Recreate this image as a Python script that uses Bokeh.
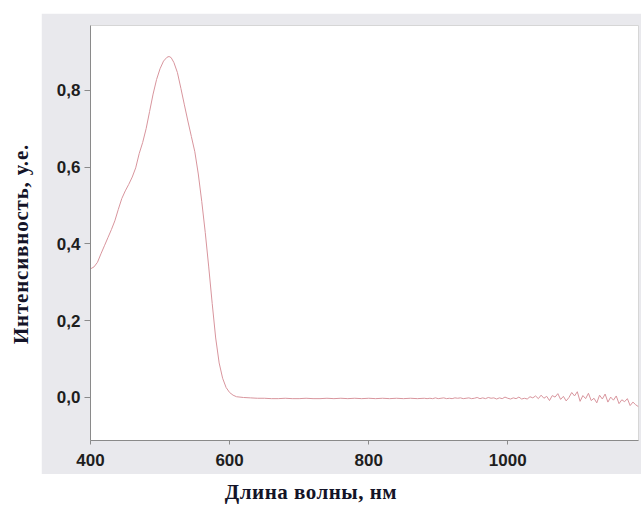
from bokeh.plotting import figure
from bokeh.models import Div, Spacer, CustomJSTickFormatter, FixedTicker, Range1d
from bokeh.layouts import row, column
from bokeh.embed import file_html
from bokeh.resources import INLINE

# ---- data ----
wavelength_main = [400, 405, 410, 415, 420, 425, 430, 435, 440, 445, 450, 455, 460, 465,
                   470, 475, 480, 485, 490, 495, 500, 505, 510, 513, 516, 520, 525, 530,
                   535, 540, 545, 550, 555, 560, 565, 570, 575, 580, 585, 590, 595, 600,
                   605, 610, 620, 630, 640]
intensity_main = [0.335, 0.340, 0.352, 0.374, 0.395, 0.416, 0.437, 0.460, 0.490, 0.518,
                  0.538, 0.555, 0.574, 0.598, 0.635, 0.664, 0.700, 0.745, 0.790, 0.828,
                  0.856, 0.876, 0.886, 0.888, 0.885, 0.872, 0.846, 0.805, 0.762, 0.720,
                  0.680, 0.640, 0.582, 0.510, 0.430, 0.340, 0.245, 0.155, 0.090, 0.050,
                  0.026, 0.013, 0.006, 0.002, 0.000, -0.001, -0.002]

wavelength_flat = [650, 660, 670, 680, 690, 700, 710, 720, 730, 740, 750, 760, 770, 780,
                   790, 800, 810, 820, 830, 840, 850, 860, 870, 880]
intensity_flat = [-0.002, -0.003, -0.003, -0.002, -0.003, -0.003, -0.002, -0.003, -0.003,
                  -0.002, -0.003, -0.002, -0.003, -0.002, -0.003, -0.002, -0.003, -0.002,
                  -0.003, -0.002, -0.003, -0.002, -0.003, -0.002]

wavelength_noisy = [884, 888, 892, 896, 900, 904, 908, 912, 916, 920, 924, 928, 932, 936,
                    940, 944, 948, 952, 956, 960, 964, 968, 972, 976, 980, 984, 988, 992,
                    996, 1000, 1004, 1008, 1012, 1016, 1020, 1024, 1028, 1032, 1036, 1040,
                    1044, 1048, 1052, 1056, 1060, 1064, 1068, 1072, 1076, 1080, 1084, 1088,
                    1092, 1096, 1100, 1104, 1108, 1112, 1116, 1120, 1124, 1128, 1132, 1136,
                    1140, 1144, 1148, 1152, 1156, 1160, 1164, 1168, 1172, 1176, 1180, 1184,
                    1188]
intensity_noisy = [-0.003, -0.002, -0.003, -0.001, -0.003, -0.002, -0.001, -0.003, -0.002,
                   -0.003, -0.001, -0.002, -0.001, -0.003, -0.002, -0.001, -0.003, -0.002,
                   0.000, -0.003, -0.001, -0.003, 0.000, -0.002, -0.001, -0.004, -0.001,
                   -0.003, 0.001, -0.002, -0.004, -0.001, -0.003, 0.001, -0.004, -0.002,
                   -0.004, 0.002, -0.001, 0.004, -0.003, 0.006, -0.002, 0.003, -0.008,
                   0.005, 0.001, 0.010, -0.005, 0.003, -0.009, 0.000, 0.013, 0.004,
                   0.015, -0.010, 0.005, -0.003, 0.011, -0.008, -0.002, -0.014, 0.006,
                   -0.004, 0.009, -0.012, 0.001, -0.007, 0.004, -0.016, -0.006, -0.011,
                   -0.003, -0.021, -0.012, -0.019, -0.024]

x_ticks = [400, 600, 800, 1000]
y_ticks = [0.0, 0.2, 0.4, 0.6, 0.8]
x_title = "Длина волны, нм"
y_title = "Интенсивность, у.е."

wl = wavelength_main + wavelength_flat + wavelength_noisy
inten = intensity_main + intensity_flat + intensity_noisy

PANEL = "#e9e9ed"

p = figure(width=600, height=461, output_backend="svg", toolbar_location=None,
           x_range=Range1d(400, 1188), y_range=Range1d(-0.112, 0.9687),
           min_border_left=49, min_border_right=3, min_border_top=12, min_border_bottom=34)
p.border_fill_color = PANEL
p.background_fill_color = "white"
p.outline_line_color = "#d6d6d6"
p.xgrid.visible = False
p.ygrid.visible = False

p.line(wl, inten, line_color="#d8959d", line_width=1)

for ax in (p.xaxis[0], p.yaxis[0]):
    ax.axis_line_color = "#8a8a8a"
    ax.major_tick_line_color = "#8a8a8a"
    ax.minor_tick_line_color = None
    ax.major_tick_in = 0
    ax.major_label_text_font = "Liberation Sans"
    ax.major_label_text_font_style = "bold"
    ax.major_label_text_font_size = "17px"
    ax.major_label_text_color = "#1e1e1e"

p.xaxis.ticker = FixedTicker(ticks=x_ticks)
p.yaxis.ticker = FixedTicker(ticks=y_ticks)
p.xaxis.major_tick_out = 4
p.yaxis.major_tick_out = 6
p.xaxis.major_label_standoff = 9
p.yaxis.major_label_standoff = 4
p.yaxis.formatter = CustomJSTickFormatter(code="return tick.toFixed(1).replace('.', ',');")

ydiv = Div(width=31, height=474,
           text=('<div style="position:relative;width:31px;height:474px;">'
                 '<span style="position:absolute;left:16px;top:239px;'
                 'transform:translate(-50%,-50%) rotate(-90deg);white-space:nowrap;'
                 "font-family:'Liberation Serif';font-weight:bold;font-size:21px;"
                 'letter-spacing:0.8px;line-height:1;color:#141428;">' + y_title + '</span></div>'))

xdiv = Div(width=600, height=24,
           text=('<div style="position:relative;width:600px;height:24px;overflow:visible;">'
                 '<span style="position:absolute;left:265px;top:13px;'
                 'transform:translate(-50%,-50%);white-space:nowrap;'
                 "font-family:'Liberation Serif';font-weight:bold;font-size:21px;"
                 'letter-spacing:0.5px;line-height:1;color:#141428;">' + x_title + '</span></div>'))

layout = row(ydiv, column(Spacer(width=600, height=13), p, xdiv))

open("out.html", "w").write(file_html(layout, INLINE))
